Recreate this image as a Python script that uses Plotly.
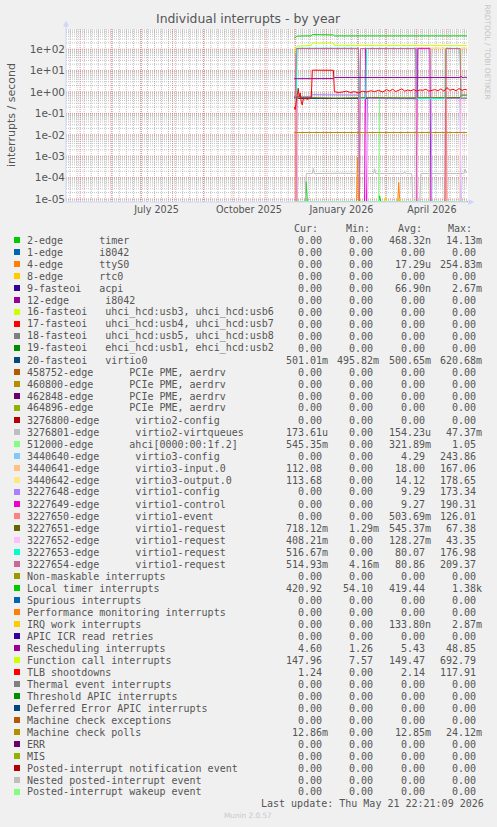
import math
from datetime import datetime, timedelta
import plotly.graph_objects as go

# ---------------- axis extents ----------------
X_START = "2025-04-16 22:21"
X_END = "2026-05-21 22:21"
D0 = "2025-11-30"
D1 = "2026-05-21"
Y_LOG_MIN = -5.14
Y_LOG_MAX = 2.946

y_tickvals = [1e-5, 1e-4, 1e-3, 1e-2, 1e-1, 1e0, 1e1, 1e2]
y_ticktext = ["1e-05", "1e-04", "1e-03", "1e-02", "1e-01", "1e+00", "1e+01", "1e+02"]
x_tickvals = ["2025-07-16", "2025-10-16", "2026-01-16", "2026-04-16"]
x_ticktext = ["July 2025", "October 2025", "January 2026", "April 2026"]

# ---------------- legend ----------------
names = [
    "2-edge      timer", "1-edge      i8042", "4-edge      ttyS0", "8-edge      rtc0",
    "9-fasteoi   acpi", "12-edge      i8042",
    "16-fasteoi   uhci_hcd:usb3, uhci_hcd:usb6", "17-fasteoi   uhci_hcd:usb4, uhci_hcd:usb7",
    "18-fasteoi   uhci_hcd:usb5, uhci_hcd:usb8", "19-fasteoi   ehci_hcd:usb1, ehci_hcd:usb2",
    "20-fasteoi   virtio0",
    "458752-edge      PCIe PME, aerdrv", "460800-edge      PCIe PME, aerdrv",
    "462848-edge      PCIe PME, aerdrv", "464896-edge      PCIe PME, aerdrv",
    "3276800-edge      virtio2-config", "3276801-edge      virtio2-virtqueues",
    "512000-edge      ahci[0000:00:1f.2]",
    "3440640-edge      virtio3-config", "3440641-edge      virtio3-input.0",
    "3440642-edge      virtio3-output.0",
    "3227648-edge      virtio1-config", "3227649-edge      virtio1-control",
    "3227650-edge      virtio1-event", "3227651-edge      virtio1-request",
    "3227652-edge      virtio1-request", "3227653-edge      virtio1-request",
    "3227654-edge      virtio1-request",
    "Non-maskable interrupts", "Local timer interrupts", "Spurious interrupts",
    "Performance monitoring interrupts", "IRQ work interrupts", "APIC ICR read retries",
    "Rescheduling interrupts", "Function call interrupts", "TLB shootdowns",
    "Thermal event interrupts", "Threshold APIC interrupts", "Deferred Error APIC interrupts",
    "Machine check exceptions", "Machine check polls", "ERR", "MIS",
    "Posted-interrupt notification event", "Nested posted-interrupt event",
    "Posted-interrupt wakeup event",
]
palette = ["#00CC00", "#0066B3", "#FF8000", "#FFCC00", "#330099", "#990099", "#CCFF00",
           "#FF0000", "#808080", "#008F00", "#00487D", "#B35A00", "#B38F00", "#6B006B",
           "#8FB300", "#B30000", "#BEBEBE", "#80FF80", "#80C9FF", "#FFC080", "#FFE680",
           "#AA80FF", "#EE00CC", "#FF8080", "#666600", "#FFBFFF", "#00FFCC", "#CC6699",
           "#999900"]
colors = [palette[i % len(palette)] for i in range(len(names))]

cur = ["0.00"] * 10 + ["501.01m"] + ["0.00"] * 5 + ["173.61u", "545.35m", "0.00", "112.08",
       "113.68", "0.00", "0.00", "0.00", "718.12m", "408.21m", "516.67m", "514.93m", "0.00",
       "420.92", "0.00", "0.00", "0.00", "0.00", "4.60", "147.96", "1.24", "0.00", "0.00",
       "0.00", "0.00", "12.86m", "0.00", "0.00", "0.00", "0.00", "0.00"]
mins = ["0.00"] * 10 + ["495.82m"] + ["0.00"] * 13 + ["1.29m", "0.00", "0.00", "4.16m",
        "0.00", "54.10", "0.00", "0.00", "0.00", "0.00", "1.26", "7.57"] + ["0.00"] * 11
avgs = ["468.32n", "0.00", "17.29u", "0.00", "66.90n", "0.00", "0.00", "0.00", "0.00", "0.00",
        "500.65m", "0.00", "0.00", "0.00", "0.00", "0.00", "154.23u", "321.89m", "4.29",
        "18.00", "14.12", "9.29", "9.27", "503.69m", "545.37m", "128.27m", "80.07", "80.86",
        "0.00", "419.44", "0.00", "0.00", "133.80n", "0.00", "5.43", "149.47", "2.14",
        "0.00", "0.00", "0.00", "0.00", "12.85m", "0.00", "0.00", "0.00", "0.00", "0.00"]
maxs = ["14.13m", "0.00", "254.83m", "0.00", "2.67m", "0.00", "0.00", "0.00", "0.00", "0.00",
        "620.68m", "0.00", "0.00", "0.00", "0.00", "0.00", "47.37m", "1.05", "243.86",
        "167.06", "178.65", "173.34", "190.31", "126.01", "67.38", "43.35", "176.98",
        "209.37", "0.00", "1.38k", "0.00", "0.00", "2.87m", "0.00", "48.85", "692.79",
        "117.91", "0.00", "0.00", "0.00", "0.00", "24.12m", "0.00", "0.00", "0.00", "0.00",
        "0.00"]

# ---------------- series data (interrupts / second) ----------------
timer_t = ["2025-11-30", "2025-12-11", "2025-12-12", "2025-12-13", "2026-02-22", "2026-02-23",
           "2026-02-24", "2026-05-21"]
timer_v = [0, 0, 6.5e-5, 0, 0, 1.4e-5, 0, 0]

ttys0_t = ["2025-11-30", "2026-01-31", "2026-02-01", "2026-02-02", "2026-03-13", "2026-03-14",
           "2026-03-15", "2026-05-21"]
ttys0_v = [0, 0, 9e-4, 0, 0, 6e-5, 0, 0]

virtio0_t = ["2025-11-30", "2025-12-04", "2026-01-20", "2026-03-10", "2026-05-21"]
virtio0_v = [0.56, 0.50, 0.50, 0.51, 0.501]

vq2_t = ["2025-11-30", "2025-12-11", "2025-12-12", "2025-12-18", "2025-12-19", "2025-12-20",
         "2026-01-15", "2026-02-17", "2026-02-18", "2026-02-19", "2026-03-19", "2026-03-20",
         "2026-03-21", "2026-03-27", "2026-03-28", "2026-04-04", "2026-04-05", "2026-05-18",
         "2026-05-19", "2026-05-20", "2026-05-21"]
vq2_v = [0, 0, 1.55e-4, 1.55e-4, 2.7e-4, 1.55e-4, 1.6e-4, 1.55e-4, 2.6e-4, 1.55e-4, 1.55e-4,
         1.9e-4, 1.55e-4, 1.55e-4, 0, 0, 1.55e-4, 1.55e-4, 2.5e-4, 1.7e-4, 1.74e-4]

ahci_t = ["2025-11-30", "2026-02-22", "2026-02-23", "2026-04-01", "2026-05-21"]
ahci_v = [0, 0, 0.55, 0.54, 0.545]

v3cfg_t = ["2025-11-30", "2026-04-14", "2026-04-15", "2026-04-16", "2026-05-21"]
v3cfg_v = [0, 0, 110, 0, 0]

v3in_t = ["2025-11-30", "2026-04-01", "2026-04-02", "2026-04-29", "2026-04-30", "2026-05-14",
          "2026-05-15", "2026-05-21"]
v3in_v = [0, 0, 112, 112, 0, 0, 112, 112.08]

v3out_t = ["2025-11-30", "2026-04-14", "2026-04-15", "2026-04-29", "2026-04-30", "2026-05-14",
           "2026-05-15", "2026-05-21"]
v3out_v = [0, 0, 113, 113, 0, 0, 113, 113.68]

v1cfg_t = ["2025-11-30", "2025-12-02", "2025-12-03", "2025-12-17", "2025-12-18", "2026-02-02",
           "2026-02-03", "2026-02-10", "2026-02-11", "2026-03-31", "2026-04-01", "2026-04-02",
           "2026-05-14", "2026-05-15", "2026-05-21"]
v1cfg_v = [0, 0, 0.6, 0.62, 0.75, 0.72, 0, 0, 0.5, 0.48, 110, 0.5, 0.5, 0, 0]

v1ctl_t = ["2025-11-30", "2026-02-08", "2026-02-09", "2026-02-10", "2026-04-01", "2026-04-02",
           "2026-04-14", "2026-04-15", "2026-05-21"]
v1ctl_v = [0, 0, 110, 0, 0, 110, 110, 0, 0]

v1evt_t = ["2025-11-30", "2025-12-01", "2025-12-02", "2025-12-03", "2026-04-29", "2026-04-30",
           "2026-05-01", "2026-05-21"]
v1evt_v = [0, 0, 60, 0, 0, 100, 0, 0]

v1rq1_t = ["2025-11-30", "2025-12-10", "2026-01-10", "2026-02-15", "2026-03-20", "2026-04-20",
           "2026-05-14", "2026-05-15", "2026-05-21"]
v1rq1_v = [0.6, 0.55, 0.52, 0.55, 0.53, 0.56, 0.55, 0.72, 0.718]

v1rq2_t = ["2025-11-30", "2026-02-09", "2026-02-10", "2026-02-11", "2026-03-31", "2026-04-01",
           "2026-04-02", "2026-05-14", "2026-05-15", "2026-05-21"]
v1rq2_v = [0, 0, 0.45, 0, 0, 0.45, 0, 0, 0.41, 0.408]

v1rq3_t = ["2025-11-30", "2025-12-02", "2025-12-03", "2026-02-02", "2026-02-03", "2026-02-09",
           "2026-02-10", "2026-03-31", "2026-04-01", "2026-04-29", "2026-04-30", "2026-05-14",
           "2026-05-15", "2026-05-21"]
v1rq3_v = [0.5, 0.5, 112, 112, 0.5, 0.5, 110, 110, 0.5, 0.5, 110, 110, 0.5, 0.517]

v1rq4_t = ["2025-11-30", "2025-12-01", "2025-12-02", "2026-02-02", "2026-02-03", "2026-02-04",
           "2026-03-31", "2026-04-01", "2026-04-29", "2026-04-30", "2026-05-14", "2026-05-15",
           "2026-05-21"]
v1rq4_v = [0.5, 0.5, 108, 108, 0, 108, 108, 0, 0, 108, 108, 0.5, 0.515]

loc_t = ["2025-11-30", "2025-12-01", "2025-12-03", "2025-12-10", "2025-12-17", "2025-12-18",
         "2025-12-25", "2026-01-01", "2026-01-08", "2026-01-09", "2026-01-25", "2026-02-10",
         "2026-03-01", "2026-03-16", "2026-03-18", "2026-03-20", "2026-04-10", "2026-04-28",
         "2026-05-02", "2026-05-05", "2026-05-10", "2026-05-14", "2026-05-21"]
loc_v = [330, 360, 410, 420, 418, 480, 470, 475, 465, 420, 416, 418, 415, 417, 432, 418, 415,
         418, 428, 417, 424, 416, 421]

iwi_t = ["2025-11-30", "2026-02-28", "2026-03-01", "2026-03-02", "2026-03-14", "2026-03-15",
         "2026-03-16", "2026-05-21"]
iwi_v = [0, 0, 1.25e-5, 0, 0, 1.1e-5, 0, 0]

res_t = ["2025-11-30", "2026-01-08", "2026-01-09", "2026-05-13", "2026-05-15", "2026-05-17",
         "2026-05-19", "2026-05-21"]
res_v = [4.2, 4.25, 4.75, 4.75, 5.3, 4.6, 5.0, 4.6]

cal_t = ["2025-11-30", "2025-12-01", "2025-12-03", "2025-12-10", "2025-12-17", "2025-12-18",
         "2025-12-25", "2026-01-08", "2026-01-09", "2026-02-15", "2026-03-15", "2026-04-15",
         "2026-05-10", "2026-05-21"]
cal_v = [68, 110, 140, 148, 150, 195, 200, 195, 152, 150, 152, 150, 155, 148]

tlb_t = ["2025-11-30", "2025-12-01", "2025-12-02", "2025-12-03", "2025-12-04", "2025-12-05",
         "2025-12-06", "2025-12-07", "2025-12-08", "2025-12-09", "2025-12-11", "2025-12-13",
         "2025-12-15", "2025-12-17", "2025-12-18", "2025-12-22", "2025-12-26", "2025-12-30",
         "2026-01-03", "2026-01-08", "2026-01-09", "2026-01-13", "2026-01-17", "2026-01-21",
         "2026-01-25", "2026-01-29", "2026-02-02", "2026-02-06", "2026-02-10", "2026-02-14",
         "2026-02-18", "2026-02-22", "2026-02-26", "2026-03-02", "2026-03-05", "2026-03-08",
         "2026-03-11", "2026-03-14", "2026-03-17", "2026-03-20", "2026-03-23", "2026-03-26",
         "2026-03-29", "2026-04-01", "2026-04-04", "2026-04-07", "2026-04-10", "2026-04-13",
         "2026-04-16", "2026-04-19", "2026-04-22", "2026-04-25", "2026-04-28", "2026-05-01",
         "2026-05-04", "2026-05-07", "2026-05-10", "2026-05-13", "2026-05-16", "2026-05-19",
         "2026-05-21"]
tlb_v = [0.2, 0.15, 0.35, 1.0, 1.5, 0.6, 0.9, 0.35, 0.25, 0.45, 0.5, 0.45, 0.5, 0.55, 10.5,
         10.4, 10.6, 10.3, 10.5, 10.4, 1.05, 0.95, 1.0, 1.1, 0.95, 1.05, 0.9, 1.1, 1.0, 1.15,
         1.05, 1.2, 1.0, 1.3, 1.1, 1.35, 1.05, 1.2, 1.4, 1.1, 1.25, 1.15, 1.3, 1.1, 1.25, 1.2,
         1.35, 1.1, 1.2, 1.3, 1.15, 1.4, 1.1, 1.6, 1.2, 1.35, 1.15, 1.45, 1.2, 1.35, 1.24]

mcp_t = ["2025-11-30", "2026-05-21"]
mcp_v = [0.01285, 0.01286]

series = {
    "2-edge      timer": (timer_t, timer_v),
    "4-edge      ttyS0": (ttys0_t, ttys0_v),
    "20-fasteoi   virtio0": (virtio0_t, virtio0_v),
    "3276801-edge      virtio2-virtqueues": (vq2_t, vq2_v),
    "512000-edge      ahci[0000:00:1f.2]": (ahci_t, ahci_v),
    "3440640-edge      virtio3-config": (v3cfg_t, v3cfg_v),
    "3440641-edge      virtio3-input.0": (v3in_t, v3in_v),
    "3440642-edge      virtio3-output.0": (v3out_t, v3out_v),
    "3227648-edge      virtio1-config": (v1cfg_t, v1cfg_v),
    "3227649-edge      virtio1-control": (v1ctl_t, v1ctl_v),
    "3227650-edge      virtio1-event": (v1evt_t, v1evt_v),
    "3227651-edge      virtio1-request": (v1rq1_t, v1rq1_v),
    "3227652-edge      virtio1-request": (v1rq2_t, v1rq2_v),
    "3227653-edge      virtio1-request": (v1rq3_t, v1rq3_v),
    "3227654-edge      virtio1-request": (v1rq4_t, v1rq4_v),
    "Local timer interrupts": (loc_t, loc_v),
    "IRQ work interrupts": (iwi_t, iwi_v),
    "Rescheduling interrupts": (res_t, res_v),
    "Function call interrupts": (cal_t, cal_v),
    "TLB shootdowns": (tlb_t, tlb_v),
    "Machine check polls": (mcp_t, mcp_v),
}

# ---------------- geometry helpers (pixel -> paper) ----------------
W, H = 497, 827
PL, PR, PT, PB = 66, 468, 29, 202
def px(x):
    return (x - PL) / (PR - PL)
def py(y):
    return (PB - y) / (PB - PT)

FLOOR = 10 ** (Y_LOG_MIN + 0.02)
FONT = "DejaVu Sans"
MONO = "DejaVu Sans Mono"
TXT = "#555555"

fig = go.Figure()
for name, col in zip(names, colors):
    t, v = series.get(name, ([D0, D1], [0, 0]))
    fig.add_trace(go.Scatter(
        x=t, y=[val if val > 0 else FLOOR for val in v], mode="lines",
        line=dict(color=col, width=1), hoverinfo="skip", showlegend=False))

shapes = []
# horizontal grid
for n in range(-6, 3):
    for k in range(1, 10):
        lv = math.log10(k * 10 ** n)
        if Y_LOG_MIN < lv < Y_LOG_MAX:
            yy = (lv - Y_LOG_MIN) / (Y_LOG_MAX - Y_LOG_MIN)
            major = (k == 1)
            shapes.append(dict(type="line", xref="paper", yref="paper", x0=0, x1=1, y0=yy, y1=yy,
                               layer="below",
                               line=dict(color="rgba(222,79,79,0.6)" if major else "rgba(143,143,143,0.55)",
                                         width=1, dash="1px,1px")))
# vertical grid: weekly minor, monthly major
xs = datetime(2025, 4, 16, 22, 21)
xe = datetime(2026, 5, 21, 22, 21)
d = datetime(2025, 4, 21)
while d < xe:
    if d > xs:
        shapes.append(dict(type="line", xref="x", yref="paper", x0=d, x1=d, y0=0, y1=1,
                           layer="below",
                           line=dict(color="rgba(143,143,143,0.55)", width=1, dash="1px,1px")))
    d += timedelta(days=7)
y_, m_ = 2025, 5
while datetime(y_, m_, 1) < xe:
    d = datetime(y_, m_, 1)
    shapes.append(dict(type="line", xref="x", yref="paper", x0=d, x1=d, y0=0, y1=1,
                       layer="below",
                       line=dict(color="rgba(222,79,79,0.6)", width=1, dash="1px,1px")))
    m_ += 1
    if m_ > 12:
        m_, y_ = 1, y_ + 1

# axes with arrows
AX = "#CFD6F8"
shapes.append(dict(type="line", xref="paper", yref="paper", x0=0, x1=0, y0=0, y1=py(24),
                   line=dict(color=AX, width=1)))
shapes.append(dict(type="line", xref="paper", yref="paper", x0=0, x1=px(471), y0=0, y1=0,
                   line=dict(color=AX, width=1)))
shapes.append(dict(type="path", xref="paper", yref="paper", fillcolor=AX, line=dict(width=0),
                   path=f"M {px(66)} {py(20.5)} L {px(63)} {py(26.5)} L {px(69)} {py(26.5)} Z"))
shapes.append(dict(type="path", xref="paper", yref="paper", fillcolor=AX, line=dict(width=0),
                   path=f"M {px(474.5)} {py(202)} L {px(468.5)} {py(199)} L {px(468.5)} {py(205)} Z"))

annotations = []
annotations.append(dict(text="Individual interrupts - by year", x=px(248), y=py(19),
                        xref="paper", yref="paper", showarrow=False, xanchor="center",
                        yanchor="middle", font=dict(family=FONT, size=12.4, color=TXT)))
annotations.append(dict(text="interrupts / second", x=px(11), y=py(115), xref="paper",
                        yref="paper", showarrow=False, textangle=-90, xanchor="center",
                        yanchor="middle", font=dict(family=FONT, size=11, color=TXT)))
annotations.append(dict(text="RRDTOOL / TOBI OETIKER", x=px(487.5), y=py(52), xref="paper",
                        yref="paper", showarrow=False, textangle=90, xanchor="center",
                        yanchor="middle", font=dict(family=FONT, size=7.4, color="#C4C4C4")))
annotations.append(dict(text="Munin 2.0.57", x=px(247.5), y=py(815.5), xref="paper",
                        yref="paper", showarrow=False, xanchor="center", yanchor="middle",
                        font=dict(family=FONT, size=7.3, color="#C8C8C8")))

NB = "\u00a0"
def lbl(s, size=10):
    return dict(family=MONO, size=size, color=TXT)

for hx, ht in zip([293.3, 345, 396.7, 446.7], ["Cur:", "Min:", "Avg:", "Max:"]):
    annotations.append(dict(text=ht, x=px(hx), y=py(228), xref="paper", yref="paper",
                            showarrow=False, xanchor="left", yanchor="middle", borderpad=0,
                            font=lbl(ht)))

col_right = [328.7, 380.3, 431.7, 482.7]
for i, (name, col) in enumerate(zip(names, colors)):
    yc = 240 + 12 * i
    shapes.append(dict(type="rect", xref="paper", yref="paper", x0=px(14), x1=px(20),
                       y0=py(yc + 3), y1=py(yc - 3), fillcolor=col, line=dict(width=0)))
    annotations.append(dict(text=name.replace(" ", NB), x=px(26), y=py(yc), xref="paper",
                            yref="paper", showarrow=False, xanchor="left", yanchor="middle",
                            borderpad=0, font=lbl(name)))
    for cx, vals in zip(col_right, [cur, mins, avgs, maxs]):
        s = vals[i]
        if s[-1].isdigit():
            s = s + NB
        annotations.append(dict(text=s, x=px(cx), y=py(yc), xref="paper", yref="paper",
                                showarrow=False, xanchor="right", yanchor="middle",
                                borderpad=0, font=lbl(s)))

annotations.append(dict(text="Last update: Thu May 21 22:21:09 2026".replace(" ", NB),
                        x=px(485), y=py(803.5), xref="paper", yref="paper", showarrow=False,
                        xanchor="right", yanchor="middle", borderpad=0, font=lbl("")))

fig.update_layout(
    width=W, height=H,
    margin=dict(l=PL, r=W - PR, t=PT, b=H - PB, pad=0),
    paper_bgcolor="#F0F0F0", plot_bgcolor="#FFFFFF",
    shapes=shapes, annotations=annotations,
    xaxis=dict(type="date", range=[X_START, X_END], showgrid=False, zeroline=False,
               showline=False, ticks="", tickvals=x_tickvals, ticktext=x_ticktext,
               tickfont=dict(family=FONT, size=9.6, color=TXT), fixedrange=True),
    yaxis=dict(type="log", range=[Y_LOG_MIN, Y_LOG_MAX], showgrid=False, zeroline=False,
               showline=False, ticks="", tickvals=y_tickvals, ticktext=y_ticktext,
               tickfont=dict(family=FONT, size=10.5, color=TXT), fixedrange=True),
)

fig.write_html("out.html", config={"displayModeBar": False},
               post_script="document.body.style.margin='0';document.body.style.background='#F0F0F0';")
